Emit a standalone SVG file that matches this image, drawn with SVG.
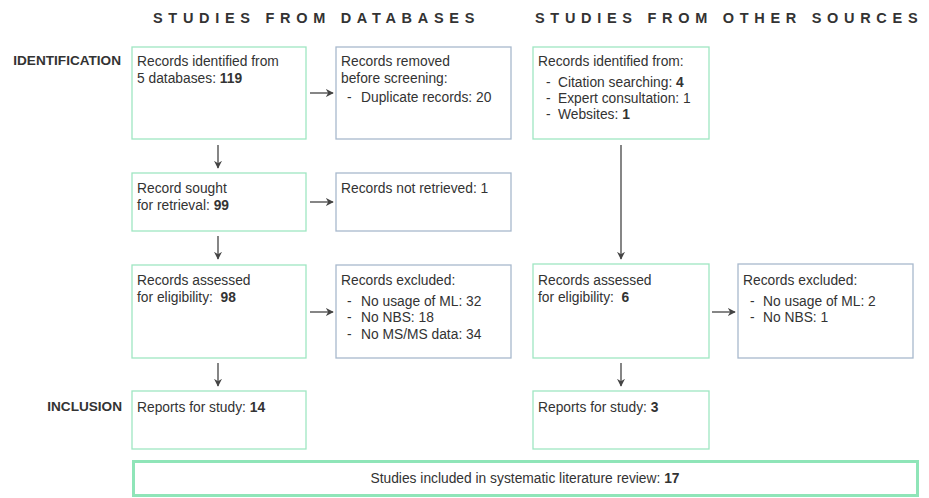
<svg xmlns="http://www.w3.org/2000/svg" width="929" height="498" viewBox="0 0 929 498">
<style>
text{font-family:"Liberation Sans",Arial,sans-serif;fill:#333;font-size:13.8px}
.b{font-weight:bold}
.hd{font-size:14.5px;font-weight:bold;letter-spacing:5.7px;fill:#333}
.lab{font-size:13.6px;font-weight:bold;fill:#333;text-anchor:end}
.g{fill:#fff;stroke:#9fe6c2;stroke-width:1.3}
.s{fill:#fff;stroke:#a8b9cd;stroke-width:1.3}
.f{fill:#fff;stroke:#8fe5b8;stroke-width:3}
.c{stroke:#444;stroke-width:1.3;fill:none}
</style>
<defs>
<marker id="ah" viewBox="0 0 10 10" refX="9" refY="5" markerWidth="8" markerHeight="8" markerUnits="userSpaceOnUse" orient="auto">
<path d="M0,0 L10,5 L0,10 L3,5 Z" fill="#444"/>
</marker>
</defs>
<rect width="929" height="498" fill="#fff"/>
<text class="hd" x="153" y="23">STUDIES FROM DATABASES</text>
<text class="hd" x="535" y="23">STUDIES FROM OTHER SOURCES</text>
<text class="lab" x="121" y="65">IDENTIFICATION</text>
<text class="lab" x="122" y="411">INCLUSION</text>

<g id="connectors">
<line class="c" x1="218" y1="145" x2="218" y2="168" marker-end="url(#ah)"/>
<line class="c" x1="218" y1="236" x2="218" y2="259" marker-end="url(#ah)"/>
<line class="c" x1="218" y1="363" x2="218" y2="386" marker-end="url(#ah)"/>
<line class="c" x1="310" y1="93" x2="333" y2="93" marker-end="url(#ah)"/>
<line class="c" x1="310" y1="202" x2="333" y2="202" marker-end="url(#ah)"/>
<line class="c" x1="310" y1="312" x2="333" y2="312" marker-end="url(#ah)"/>
<line class="c" x1="621" y1="145" x2="621" y2="259" marker-end="url(#ah)"/>
<line class="c" x1="621" y1="363" x2="621" y2="386" marker-end="url(#ah)"/>
<line class="c" x1="712" y1="312" x2="735" y2="312" marker-end="url(#ah)"/>
</g>

<g id="db-identified">
<rect class="g" x="132" y="47" width="174" height="92"/>
<text x="137" y="66">Records identified from</text>
<text x="137" y="83">5 databases: <tspan class="b">119</tspan></text>
</g>
<g id="db-removed">
<rect class="s" x="336" y="47" width="175" height="92"/>
<text x="341" y="66">Records removed</text>
<text x="341" y="83">before screening:</text>
<text x="347" y="102">-</text><text x="361" y="102">Duplicate records: 20</text>
</g>
<g id="other-identified">
<rect class="g" x="533" y="47" width="176" height="92"/>
<text x="538" y="66">Records identified from:</text>
<text x="546" y="87">-</text><text x="558" y="87">Citation searching: <tspan class="b">4</tspan></text>
<text x="546" y="103">-</text><text x="558" y="103">Expert consultation: 1</text>
<text x="546" y="119">-</text><text x="558" y="119">Websites: <tspan class="b">1</tspan></text>
</g>
<g id="db-sought">
<rect class="g" x="132" y="173" width="174" height="58"/>
<text x="137" y="193">Record sought</text>
<text x="137" y="210">for retrieval: <tspan class="b">99</tspan></text>
</g>
<g id="db-not-retrieved">
<rect class="s" x="336" y="173" width="175" height="58"/>
<text x="341" y="193">Records not retrieved: 1</text>
</g>
<g id="db-assessed">
<rect class="g" x="132" y="265" width="174" height="93"/>
<text x="137" y="285">Records assessed</text>
<text x="137" y="302" xml:space="preserve">for eligibility:  <tspan class="b">98</tspan></text>
</g>
<g id="db-excluded">
<rect class="s" x="336" y="265" width="175" height="93"/>
<text x="341" y="285">Records excluded:</text>
<text x="347" y="306">-</text><text x="361" y="306">No usage of ML: 32</text>
<text x="347" y="322">-</text><text x="361" y="322">No NBS: 18</text>
<text x="347" y="339">-</text><text x="361" y="339">No MS/MS data: 34</text>
</g>
<g id="other-assessed">
<rect class="g" x="533" y="264" width="176" height="94"/>
<text x="538" y="285">Records assessed</text>
<text x="538" y="302" xml:space="preserve">for eligibility:  <tspan class="b">6</tspan></text>
</g>
<g id="other-excluded">
<rect class="s" x="738" y="264" width="175" height="94"/>
<text x="743" y="285">Records excluded:</text>
<text x="750" y="306">-</text><text x="763" y="306">No usage of ML: 2</text>
<text x="750" y="322">-</text><text x="763" y="322">No NBS: 1</text>
</g>
<g id="db-reports">
<rect class="g" x="132" y="391" width="174" height="58"/>
<text x="137" y="412">Reports for study: <tspan class="b">14</tspan></text>
</g>
<g id="other-reports">
<rect class="g" x="533" y="391" width="176" height="58"/>
<text x="538" y="412">Reports for study: <tspan class="b">3</tspan></text>
</g>
<g id="included">
<rect class="f" x="133.5" y="461.5" width="784" height="34"/>
<text x="525" y="483" text-anchor="middle">Studies included in systematic literature review: <tspan class="b">17</tspan></text>
</g>
</svg>
